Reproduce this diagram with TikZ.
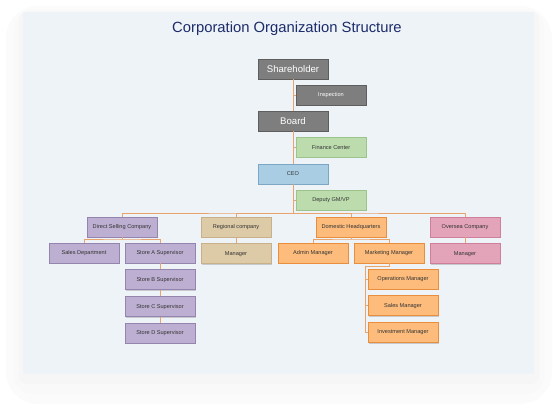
\documentclass[tikz,border=0pt]{standalone}
\usepackage{fontspec}
\setmainfont{Liberation Sans}
\usepackage{xcolor}
\usetikzlibrary{positioning,shadows}

\definecolor{panelc}{HTML}{EEF3F7}
\definecolor{titlec}{HTML}{1C2B6B}
\definecolor{linkc}{HTML}{E9A46E}
\definecolor{grayf}{HTML}{7E7E7E}
\definecolor{grayd}{HTML}{5E5E5E}
\definecolor{greenf}{HTML}{BCDCAE}
\definecolor{greend}{HTML}{9CC38B}
\definecolor{bluef}{HTML}{A9CDE3}
\definecolor{blued}{HTML}{7BA6C4}
\definecolor{purplef}{HTML}{BDAFD1}
\definecolor{purpled}{HTML}{9584AE}
\definecolor{tanf}{HTML}{DDCAA6}
\definecolor{tand}{HTML}{C8B08A}
\definecolor{orangef}{HTML}{FDBC7C}
\definecolor{oranged}{HTML}{E88E3C}
\definecolor{pinkf}{HTML}{E3A4B9}
\definecolor{pinkd}{HTML}{D07F9B}

\begin{document}
\begin{tikzpicture}[x=0.75pt, y=-0.75pt]
        % Define styles
        \tikzset{
            unit/.style={rectangle, draw, line width=0.6pt, minimum width=52.5pt, minimum height=15pt, inner sep=1pt, text=black!80, font=\fontsize{4.2}{5}\selectfont, drop shadow={shadow xshift=0.7pt, shadow yshift=-0.7pt, opacity=0.35}},
            board/.style={unit, fill=grayf, draw=grayd, text=white, font=\fontsize{7.2}{8}\selectfont},
            office/.style={unit, fill=grayf, draw=grayd, text=white},
            staff/.style={unit, fill=greenf, draw=greend},
            chief/.style={unit, fill=bluef, draw=blued},
            direct/.style={unit, fill=purplef, draw=purpled},
            region/.style={unit, fill=tanf, draw=tand},
            domestic/.style={unit, fill=orangef, draw=oranged},
            oversea/.style={unit, fill=pinkf, draw=pinkd},
            link/.style={draw=linkc, line width=0.7pt}
        }

        % Background
        \useasboundingbox (0,0) rectangle (558,410);
        \fill[black!1.5, rounded corners=24pt] (6,6) rectangle (552,404);
        \fill[black!2.5, rounded corners=14pt] (14,10) rectangle (544,394);
        \fill[black!3.5, rounded corners=6pt] (19,12) rectangle (539,384);
        \fill[panelc] (23,12) rectangle (534,374);

        \node[text=titlec, font=\fontsize{11.1}{13}\selectfont] (title) at (287,29) {Corporation Organization Structure};

        % Create nodes
        \node[board] (share) at (293,69) {Shareholder};
        \node[office] (insp) at (331,95) {Inspection};
        \node[board] (brd) at (293,121) {Board};
        \node[staff] (fin) at (331,147) {Finance Center};
        \node[chief] (ceo) at (293,174) {CEO};
        \node[staff] (deputy) at (331,200) {Deputy GM/VP};

        \node[direct] (dsc) at (122,227) {Direct Selling Company};
        \node[region] (reg) at (236,227) {Regional company};
        \node[domestic] (dom) at (351,227) {Domestic Headquarters};
        \node[oversea] (ovs) at (465,227) {Oversea Company};

        \node[direct] (salesdep) at (84,253) {Sales Department};
        \node[direct] (storea) at (160,253) {Store A Supervisor};
        \node[direct, below=4.5pt of storea] (storeb) {Store B Supervisor};
        \node[direct, below=4.5pt of storeb] (storec) {Store C Supervisor};
        \node[direct, below=4.5pt of storec] (stored) {Store D Supervisor};
        \node[region, below=4.5pt of reg] (regman) {Manager};
        \node[domestic] (admin) at (313,253) {Admin Manager};
        \node[domestic] (market) at (389,253) {Marketing Manager};
        \node[domestic] (ops) at (403,279) {Operations Manager};
        \node[domestic, below=4.5pt of ops] (salesman) {Sales Manager};
        \node[domestic, below=4.5pt of salesman] (invest) {Investment Manager};
        \node[oversea, below=4.5pt of ovs] (ovsman) {Manager};

        % Create links
        \coordinate (bus) at (293,213);
        \coordinate (dscbus) at (122,239);
        \coordinate (dombus) at (351,239);
        \coordinate (mktbus) at (365,266);

        \draw[link] (share) -- (brd);
        \draw[link] (share.south) |- (insp.west);
        \draw[link] (brd) -- (ceo);
        \draw[link] (brd.south) |- (fin.west);
        \draw[link] (ceo) -- (bus);
        \draw[link] (ceo.south) |- (deputy.west);
        \draw[link] (dsc.north) |- (bus) -| (ovs.north);
        \draw[link] (reg.north) |- (bus);
        \draw[link] (dom.north) |- (bus);

        \draw[link] (dsc) -- (dscbus);
        \draw[link] (salesdep.north) |- (dscbus) -| (storea.north);
        \draw[link] (storea) -- (storeb);
        \draw[link] (storeb) -- (storec);
        \draw[link] (storec) -- (stored);
        \draw[link] (reg) -- (regman);
        \draw[link] (ovs) -- (ovsman);

        \draw[link] (dom) -- (dombus);
        \draw[link] (admin.north) |- (dombus) -| (market.north);
        \draw[link] (market.south) |- (mktbus) |- (invest.west);
        \draw[link] (mktbus) |- (ops.west);
        \draw[link] (mktbus) |- (salesman.west);
    \end{tikzpicture}
\end{document}
